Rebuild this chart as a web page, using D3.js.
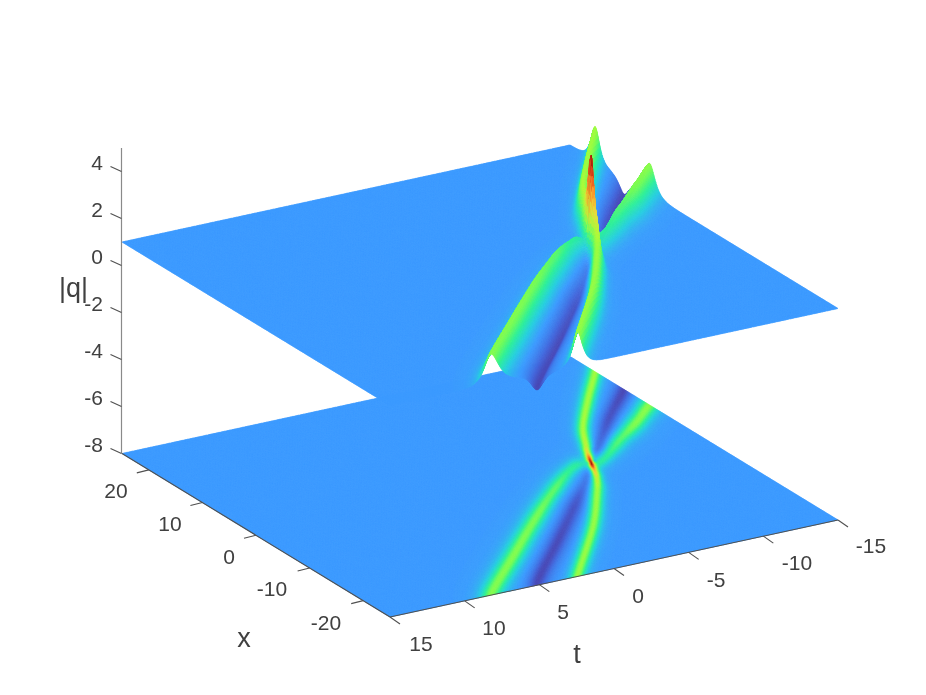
<!DOCTYPE html>
<html><head><meta charset="utf-8">
<script src="https://cdn.jsdelivr.net/npm/d3@7"></script>
<style>
html,body{margin:0;padding:0;background:#fff;width:926px;height:695px;overflow:hidden}
canvas,svg{position:absolute;left:0;top:0}
canvas{filter:blur(0.45px)}
text{font-family:"Liberation Sans",Arial,sans-serif;fill:#404040}
</style></head><body>
<canvas id="c" width="926" height="695"></canvas>
<svg id="s" width="926" height="695"></svg>
<script>
// axis ticks
const zTicks=[4,2,0,-2,-4,-6,-8];
const xTicks=[20,10,0,-10,-20];
const tTicks=[15,10,5,0,-5,-10,-15];
const xLabelPos=[[116,490],[170,523],[229,556],[272,588],[326,622]];
const tLabelPos=[[421,643],[494,627],[563,611],[638,595],[716,579],[797,562],[871,545]];
// ridge/trough crest lines: t, x, crest |q|, half-width (plane px)
const ridgeA_t=[3.2,2.31,-2.33,-5.28,-6.33,-6.88,-7.41,-8.11,-8.6,-9.94,-12.37,-14.9,-17,-19];
const ridgeA_x=[-27,-24.7,-14.6,-7.13,-4.19,-2.29,-0.06,2.62,4.2,8.46,14.31,20.06,25,29];
const ridgeA_q=[2.4,2.4,2.4,2.45,2.75,3.3,5.0,3.1,2.7,2.5,2.45,2.45,2.45,2.45];
const ridgeA_w=[4,4,4,3.7,2.9,2.2,1.5,2.4,3.1,3.7,4,4,4,4];
const ridgeB_t=[8.9,8.02,4.06,0.32,-3.18,-6.12,-7.3,-8.25,-10.71,-13,-14.77,-17];
const ridgeB_x=[-27,-24.57,-17.47,-10.77,-4.75,-0.31,-0.2,0.03,3.72,6.95,9.8,13];
const ridgeB_q=[2.25,2.25,2.25,2.2,2.05,1.75,1.4,1.75,2.0,2.25,2.3,2.3];
const ridgeB_w=[5.6,5.6,5.6,5.4,5,4.4,3,4,4.8,5.2,5.4,5.4];
const troughC_t=[5.5,4.85,0.75,-2.71,-6.13,-7.6,-9.48,-12.08,-14.75,-17];
const troughC_x=[-27,-24.3,-16.46,-9.79,-3.07,0.3,4.02,9.4,14.41,19];
const troughC_q=[0.3,0.3,0.32,0.4,0.7,0.85,0.55,0.38,0.3,0.3];
const troughC_w=[5.4,5.4,5.4,5.4,4,2.6,4.4,5,5.2,5.2];
const spot_t=[-7.25,-7.72], spot_x=[-0.02,0.2], spot_q=[0.25,0.25], spot_w=[1.5,1.5];
// colour stops, indexed by |q|
const colorQ=[0,0.3,0.6,1,1.35,1.75,2.1,2.45,3,3.6,4.2,4.7,5];
const colorHex=['#2a2566','#4a48b4','#4468dc','#3d9bff','#27cfe0','#2ef09a','#6ffb5c','#a8fc3c','#ecd93a','#fb9a2c','#e4461a','#a01a08','#6a1005'];
const baseQ=1, qMax=5, upperZ=0, lowerZ=-8;

// projection scales
const W=926,H=695,ox=480,oy=486.75;
const tPx=d3.scaleLinear([-15,15],[224,-224]), xPx=d3.scaleLinear([-25,25],[134,-134]);
const tPy=d3.scaleLinear([-15,15],[-48.5,48.5]), xPy=d3.scaleLinear([-25,25],[81.75,-81.75]);
const zPy=d3.scaleLinear([-8,5],[0,-305.5]);
const color=d3.scaleLinear(colorQ,colorHex).clamp(true);
const proj=(t,x,z)=>[ox+tPx(t)+xPx(x), oy+tPy(t)+xPy(x)+zPy(z)];

// crest sampling (Catmull-Rom through the read points)
function cr(a,b,c,d,u){return 0.5*(2*b+(c-a)*u+(2*a-5*b+4*c-d)*u*u+(3*b-a-3*c+d)*u*u*u);}
function crest(ts,xs,qs,ws,n=24){
  const out=[],m=ts.length;
  const g=(A,i)=>A[Math.max(0,Math.min(m-1,i))];
  for(let i=0;i<m-1;i++)for(let k=0;k<n;k++){
    const u=k/n;
    const t=cr(g(ts,i-1),g(ts,i),g(ts,i+1),g(ts,i+2),u), x=cr(g(xs,i-1),g(xs,i),g(xs,i+1),g(xs,i+2),u);
    const q=qs[i]+(qs[i+1]-qs[i])*u*u*(3-2*u), w=ws[i]+(ws[i+1]-ws[i])*u*u*(3-2*u);
    out.push({px:tPx(t)+xPx(x),py:tPy(t)+xPy(x),q,w});
  }
  return out;
}
const features=[crest(ridgeA_t,ridgeA_x,ridgeA_q,ridgeA_w),crest(ridgeB_t,ridgeB_x,ridgeB_q,ridgeB_w),crest(troughC_t,troughC_x,troughC_q,troughC_w)];
const spots=spot_t.map((t,i)=>({px:tPx(t)+xPx(spot_x[i]),py:tPy(t)+xPy(spot_x[i]),q:spot_q[i],w:spot_w[i]}));
function nearest(f,px,py){let best=1e12,bp=null;
  for(const p of f){const dx=p.px-px,dy=p.py-py,d=dx*dx+dy*dy;if(d<best){best=d;bp=p;}}
  return [Math.sqrt(best),bp];}
function field(t,x){
  const px=tPx(t)+xPx(x),py=tPy(t)+xPy(x);
  let v=baseQ;
  for(const f of features){const [d,p]=nearest(f,px,py);v+=(p.q-baseQ)/Math.cosh(d/p.w);}
  for(const p of spots){const dx=p.px-px,dy=p.py-py;const c=1/Math.cosh(Math.sqrt(dx*dx+dy*dy)/p.w);v+=(p.q-baseQ)*c*c;}
  return Math.max(0,v);
}
const nt=375,nx=312;
const tGrid=d3.range(nt+1).map(i=>-15+30*i/nt), xGrid=d3.range(nx+1).map(j=>25-50*j/nx);
const Q=xGrid.map(x=>Float32Array.from(tGrid,t=>field(t,x)));
const lut=d3.range(1025).map(i=>color(i/1024*qMax));
const ctx=document.getElementById('c').getContext('2d');
ctx.lineWidth=0.6;ctx.lineJoin='round';
function drawSurface(zOf){
  for(let j=0;j<nx;j++)for(let i=0;i<nt;i++){
    const x0=xGrid[j],x1=xGrid[j+1],t0=tGrid[i],t1=tGrid[i+1];
    const q00=Q[j][i],q01=Q[j][i+1],q10=Q[j+1][i],q11=Q[j+1][i+1];
    const a=proj(t0,x0,zOf(q00)),b=proj(t1,x0,zOf(q01)),c=proj(t1,x1,zOf(q11)),d=proj(t0,x1,zOf(q10));
    const col=lut[Math.min(1024,Math.round((q00+q01+q10+q11)/4/qMax*1024))];
    ctx.fillStyle=col;ctx.strokeStyle=col;
    ctx.beginPath();ctx.moveTo(a[0],a[1]);ctx.lineTo(b[0],b[1]);ctx.lineTo(c[0],c[1]);ctx.lineTo(d[0],d[1]);ctx.closePath();
    ctx.fill();ctx.stroke();
  }
}
drawSurface(()=>lowerZ);
drawSurface(q=>upperZ+q);

// axes
const svg=d3.select('#s');
const line=(p,q,col,w)=>svg.append('line').attr('x1',p[0]).attr('y1',p[1]).attr('x2',q[0]).attr('y2',q[1]).attr('stroke',col).attr('stroke-width',w);
const label=(s,x,y,size)=>svg.append('text').attr('x',x).attr('y',y).attr('font-size',size).attr('text-anchor','middle').attr('dominant-baseline','central').text(s);
const corner=proj(15,25,-8);
line([corner[0]-0.5,corner[1]],[corner[0]-0.5,zPy(5)+corner[1]],'#8a8a8a',1.2);
zTicks.forEach(z=>{const y=corner[1]+zPy(z);line([corner[0]-0.5,y],[corner[0]-11.5,y-5],'#505050',1.1);
  svg.append('text').attr('x',103).attr('y',y-9).attr('font-size',21).attr('text-anchor','end').attr('dominant-baseline','central').text(z);});
line(proj(15,25,-8),proj(15,-25,-8),'#505050',1.1);
line(proj(15,-25,-8),proj(-15,-25,-8),'#505050',1.1);
xTicks.forEach((x,i)=>{const p=proj(15,x,-8);line(p,[p[0]-12,p[1]+3],'#505050',1.1);label(x,xLabelPos[i][0],xLabelPos[i][1],21);});
tTicks.forEach((t,i)=>{const p=proj(t,-25,-8);line(p,[p[0]+10,p[1]+7],'#505050',1.1);label(t,tLabelPos[i][0],tLabelPos[i][1],21);});
svg.append('text').attr('x',59).attr('y',297).attr('font-size',27).text('|q|');
label('x',244,638,27);
label('t',577,654,27);
</script></body></html>
